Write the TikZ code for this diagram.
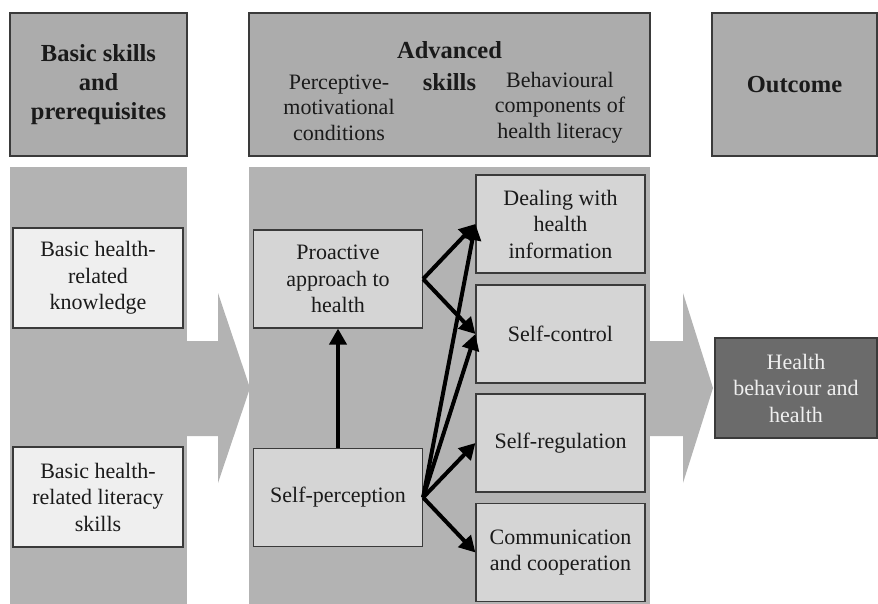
\documentclass[tikz,border=0pt]{standalone}
\usepackage{fontspec}
\setmainfont{Liberation Serif}
\usepackage{tikz}
\usetikzlibrary{arrows.meta}

\definecolor{headgray}{HTML}{ACACAC}
\definecolor{panelgray}{HTML}{B3B3B3}
\definecolor{palegray}{HTML}{EFEFEF}
\definecolor{skillgray}{HTML}{D5D5D5}
\definecolor{darkgray}{HTML}{6B6B6B}
\definecolor{boxline}{HTML}{3A3A3A}
\definecolor{inkgray}{HTML}{1A1A1A}

\newcommand\boxtextfont{\fontsize{22}{26.5}\selectfont}
\newcommand\headtextfont{\fontsize{24.5}{29}\selectfont\bfseries}

\tikzset{
    headbox/.style={draw=boxline, fill=headgray, line width=1.2pt, inner sep=0pt,
        minimum height=143pt, align=center, text=inkgray, font=\headtextfont},
    basicbox/.style={draw=boxline, fill=palegray, line width=1.2pt, inner sep=0pt,
        minimum width=170pt, minimum height=100pt, align=center, text=inkgray, font=\boxtextfont},
    skillbox/.style={basicbox, fill=skillgray, minimum width=169pt, minimum height=98pt},
    outbox/.style={basicbox, fill=darkgray, text=palegray, minimum width=162pt},
    link/.style={line width=4pt, -{Triangle[length=16pt,width=17pt]}},
}

\begin{document}
\begin{tikzpicture}[x=1pt, y=-1pt]
    \useasboundingbox (0,0) rectangle (878,604);

    % Column panels
    \fill[panelgray] (10,167) rectangle (187,604);
    \fill[panelgray] (249,167) rectangle (650,604);

    % Big arrows between the columns
    \fill[panelgray] (187,341) -- (218,341) -- (218,293) -- (250,388)
        -- (218,483) -- (218,436) -- (187,436) -- cycle;
    \fill[panelgray] (650,341) -- (683,341) -- (683,293) -- (713,388)
        -- (683,483) -- (683,436) -- (650,436) -- cycle;

    % Headers
    \node[headbox, minimum width=177pt] (hbasic) at (98.5,84.5) {Basic skills\\and\\prerequisites};
    \node[headbox, minimum width=401pt] (hadv) at (449.5,84.5) {};
    \node[headbox, minimum width=165pt] (hout) at (794.5,84.5) {Outcome};
    \node[align=center, text=inkgray, font=\fontsize{24.5}{32}\selectfont\bfseries] (advtitle) at (449.5,66) {Advanced\\skills};
    \node[align=center, text=inkgray, font=\fontsize{22}{25.5}\selectfont] (percept) at (339,107.5) {Perceptive-\\motivational\\conditions};
    \node[align=center, text=inkgray, font=\fontsize{22}{25.5}\selectfont] (behav) at (560,107.5) {Behavioural\\components of\\health literacy};

    % Basic skills
    \node[basicbox] (know) at (98,278) {Basic health-\\related\\knowledge};
    \node[basicbox] (literacy) at (98,497) {Basic health-\\related literacy\\skills};

    % Advanced skills
    \node[skillbox] (proact) at (338,279) {Proactive\\approach to\\health};
    \node[skillbox] (selfperc) at (338,497.5) {Self-perception};
    \node[skillbox] (dealing) at (560.5,224) {Dealing with\\health\\information};
    \node[skillbox] (selfctrl) at (560.5,334) {Self-control};
    \node[skillbox] (selfreg) at (560.5,443) {Self-regulation};
    \node[skillbox] (comm) at (560.5,552.5) {Communication\\and cooperation};

    % Outcome
    \node[outbox] (health) at (796,388) {Health\\behaviour and\\health};

    % Links
    \draw[link] (selfperc) -- (proact);
    \draw[link] (proact.east) -- (dealing.west);
    \draw[link] (proact.east) -- (selfctrl.west);
    \foreach \target in {dealing, selfctrl, selfreg, comm}
        \draw[link] (selfperc.east) -- (\target.west);
\end{tikzpicture}
\end{document}
